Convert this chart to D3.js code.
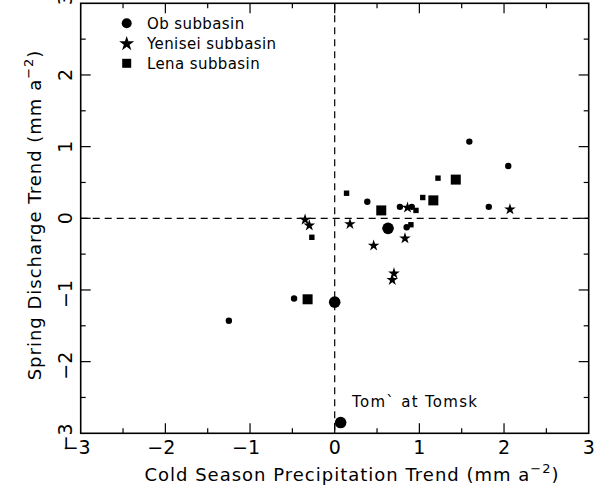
<!DOCTYPE html>
<html>
<head>
<meta charset="utf-8">
<script src="https://cdn.jsdelivr.net/npm/d3@7"></script>
<style>
  body { margin: 0; background: #fff; }
  text { font-family: "DejaVu Sans", sans-serif; fill: #000; }
</style>
</head>
<body>
<script>
// Ob subbasin (circles), big = larger marker
const obX = [1.59, 2.05, 1.82, 0.385, 0.77, 0.91, 0.63, 0.85, -0.48, 0.0, 0.07, -1.25];
const obY = [1.07, 0.73, 0.16, 0.23, 0.16, 0.16, -0.14, -0.125, -1.12, -1.17, -2.85, -1.43];
const obBig = [0, 0, 0, 0, 0, 0, 1, 0, 0, 1, 1, 0];
// Yenisei subbasin (stars)
const yenX = [2.07, 0.86, -0.35, -0.30, 0.18, 0.46, 0.83, 0.70, 0.68];
const yenY = [0.125, 0.15, -0.02, -0.10, -0.08, -0.38, -0.28, -0.77, -0.86];
// Lena subbasin (squares)
const lenaX = [1.22, 1.43, 1.04, 1.165, 0.55, 0.96, 0.14, -0.27, 0.90, -0.32];
const lenaY = [0.56, 0.54, 0.29, 0.25, 0.11, 0.11, 0.35, -0.265, -0.09, -1.13];
const lenaBig = [0, 1, 0, 1, 1, 0, 0, 0, 0, 1];

const legendNames = ['Ob subbasin', 'Yenisei subbasin', 'Lena subbasin'];
const majorTicks = [-3, -2, -1, 0, 1, 2, 3];
const minorTicks = [-2.5, -1.5, -0.5, 0.5, 1.5, 2.5];

const W = 599, H = 489;
const x = d3.scaleLinear().domain([-3, 3]).range([80.7, 588.7]);
const y = d3.scaleLinear().domain([-3, 3]).range([433.3, 3.3]);

const svg = d3.select('body').append('svg').attr('width', W).attr('height', H);

// zero lines
svg.append('line').attr('x1', x(0)).attr('x2', x(0)).attr('y1', y(3)).attr('y2', y(-3))
  .attr('stroke', '#000').attr('stroke-width', 1.2).attr('stroke-dasharray', '7,5');
svg.append('line').attr('x1', x(-3)).attr('x2', x(3)).attr('y1', y(0)).attr('y2', y(0))
  .attr('stroke', '#000').attr('stroke-width', 1.2).attr('stroke-dasharray', '7,5');

// frame
svg.append('rect').attr('x', x(-3)).attr('y', y(3))
  .attr('width', x(3) - x(-3)).attr('height', y(-3) - y(3))
  .attr('fill', 'none').attr('stroke', '#000').attr('stroke-width', 1.6);

// ticks on all four sides
const tk = svg.append('g').attr('stroke', '#000').attr('stroke-width', 1.2);
const allTicks = majorTicks.slice(1, -1).map(v => [v, 10]).concat(minorTicks.map(v => [v, 5]));
allTicks.forEach(([v, len]) => {
  tk.append('line').attr('x1', x(v)).attr('x2', x(v)).attr('y1', y(-3)).attr('y2', y(-3) - len);
  tk.append('line').attr('x1', x(v)).attr('x2', x(v)).attr('y1', y(3)).attr('y2', y(3) + len);
  tk.append('line').attr('y1', y(v)).attr('y2', y(v)).attr('x1', x(-3)).attr('x2', x(-3) + len);
  tk.append('line').attr('y1', y(v)).attr('y2', y(v)).attr('x1', x(3)).attr('x2', x(3) - len);
});

const fmt = v => (v < 0 ? '\u2212' + Math.abs(v) : '' + v);
// x tick labels
svg.append('g').selectAll('text').data(majorTicks).enter().append('text')
  .attr('x', d => x(d) - (d < 0 ? 4 : 0)).attr('y', 454)
  .attr('text-anchor', 'middle').style('font-size', '19px').text(fmt);
// y tick labels (rotated, parallel to axis)
svg.append('g').selectAll('text').data(majorTicks.filter(d => d < 3)).enter().append('text')
  .attr('transform', d => `translate(72,${y(d) + (d < 0 ? 4 : 0)}) rotate(-90)`)
  .attr('text-anchor', 'middle').style('font-size', '19px').text(fmt);
// top "3" label, partly cut by the top edge as in the original
svg.append('text').attr('transform', `translate(72,${y(3) + 2}) rotate(-90)`)
  .attr('text-anchor', 'start').style('font-size', '19px').text('3');

// axis titles
const xt = svg.append('text').attr('x', 352).attr('y', 481).attr('text-anchor', 'middle')
  .style('font-size', '18px').style('letter-spacing', '1px');
xt.append('tspan').text('Cold Season Precipitation Trend (mm a');
xt.append('tspan').attr('dy', -8).style('font-size', '13px').text('\u22122');
xt.append('tspan').attr('dy', 8).text(')');

const yt = svg.append('text').attr('transform', 'translate(41,215) rotate(-90)')
  .attr('text-anchor', 'middle').style('font-size', '18px').style('letter-spacing', '1px');
yt.append('tspan').text('Spring Discharge Trend (mm a');
yt.append('tspan').attr('dy', -8).style('font-size', '13px').text('\u22122');
yt.append('tspan').attr('dy', 8).text(')');

// data marks
const marks = svg.append('g').attr('fill', '#000');
marks.selectAll('circle.ob').data(d3.range(obX.length)).enter().append('circle')
  .attr('cx', i => x(obX[i])).attr('cy', i => y(obY[i]))
  .attr('r', i => obBig[i] ? 5.8 : 3.2);
marks.selectAll('rect.lena').data(d3.range(lenaX.length)).enter().append('rect')
  .attr('x', i => x(lenaX[i]) - (lenaBig[i] ? 5 : 2.7))
  .attr('y', i => y(lenaY[i]) - (lenaBig[i] ? 5 : 2.7))
  .attr('width', i => lenaBig[i] ? 10 : 5.4).attr('height', i => lenaBig[i] ? 10 : 5.4);
const star = d3.symbol().type(d3.symbolStar).size(42);
marks.selectAll('path.yen').data(d3.range(yenX.length)).enter().append('path')
  .attr('d', star).attr('transform', i => `translate(${x(yenX[i])},${y(yenY[i])})`);

// annotation
svg.append('text').attr('x', 352).attr('y', 407).style('font-size', '15px')
  .style('letter-spacing', '1.3px').text('Tom` at Tomsk');

// legend
const lg = svg.append('g').attr('id', 'legend');
const ly = [23.3, 43.3, 63.3];
lg.append('circle').attr('cx', 126.7).attr('cy', ly[0]).attr('r', 5);
lg.append('path').attr('d', d3.symbol().type(d3.symbolStar).size(70))
  .attr('transform', `translate(126.7,${ly[1] + 0.5})`);
lg.append('rect').attr('x', 122.2).attr('y', ly[2] - 4.5).attr('width', 9).attr('height', 9);
lg.selectAll('text').data(legendNames).enter().append('text')
  .attr('x', 147).attr('y', (d, i) => ly[i] + 5.5).style('font-size', '15px')
  .style('letter-spacing', '0.4px').text(d => d);
</script>
</body>
</html>
